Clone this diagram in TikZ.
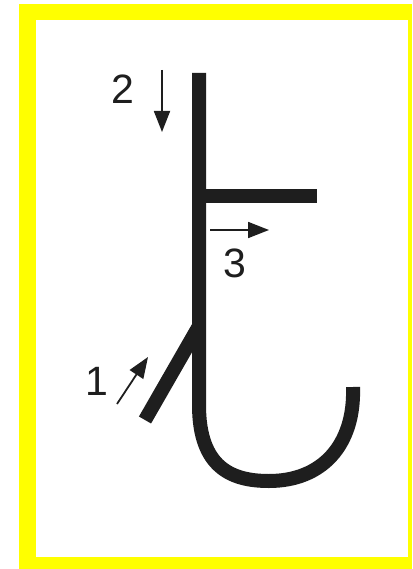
\documentclass[tikz,border=0pt]{standalone}
\usepackage{fontspec}
\setmainfont{Liberation Sans}
\usepackage{xcolor}
\usetikzlibrary{arrows.meta}

\definecolor{frameyellow}{RGB}{255,255,0}
\definecolor{strokeblack}{RGB}{30,30,30}

\tikzset{
    stroke/.style={line width=14pt, strokeblack, line cap=butt},
    order/.style={-{Triangle[length=21pt,width=16pt]}, line width=1.8pt, strokeblack},
    num/.style={font=\fontsize{41}{41}\selectfont, text=strokeblack, inner sep=0pt}
}

\begin{document}
\begin{tikzpicture}[x=1pt, y=-1pt]
        % 1. Frame (yellow border, white inside)
        \useasboundingbox (0,0) rectangle (412,569);
        \fill[white] (0,0) rectangle (412,569);
        \fill[frameyellow] (19,4) rectangle (412,569);
        \fill[white] (36,20) rectangle (408,557);

        % 2. Strokes of the character
        \draw[stroke] (199,73) -- (199,405)
            .. controls (199,468) and (232,481) .. (269,481)
            .. controls (322,481) and (355,445) .. (353,387); % long stroke with hook
        \draw[stroke] (199,196) -- (317,196);                 % short horizontal
        \draw[stroke] (199,326) -- (145,420);                 % rising diagonal

        % 3. Stroke numbers
        \node[num] (n1) at (97,381) {1};
        \node[num] (n2) at (123,89) {2};
        \node[num] (n3) at (235,263) {3};

        % 4. Direction arrows
        \coordinate (a1s) at (117,404);
        \coordinate (a1e) at (148,357);
        \coordinate (a2s) at (162,70);
        \coordinate (a2e) at (162,132);
        \coordinate (a3s) at (210,230);
        \coordinate (a3e) at (269,230);
        \foreach \k in {1,2,3}{
            \draw[order] (a\k s) -- (a\k e);
        }
    \end{tikzpicture}
\end{document}
